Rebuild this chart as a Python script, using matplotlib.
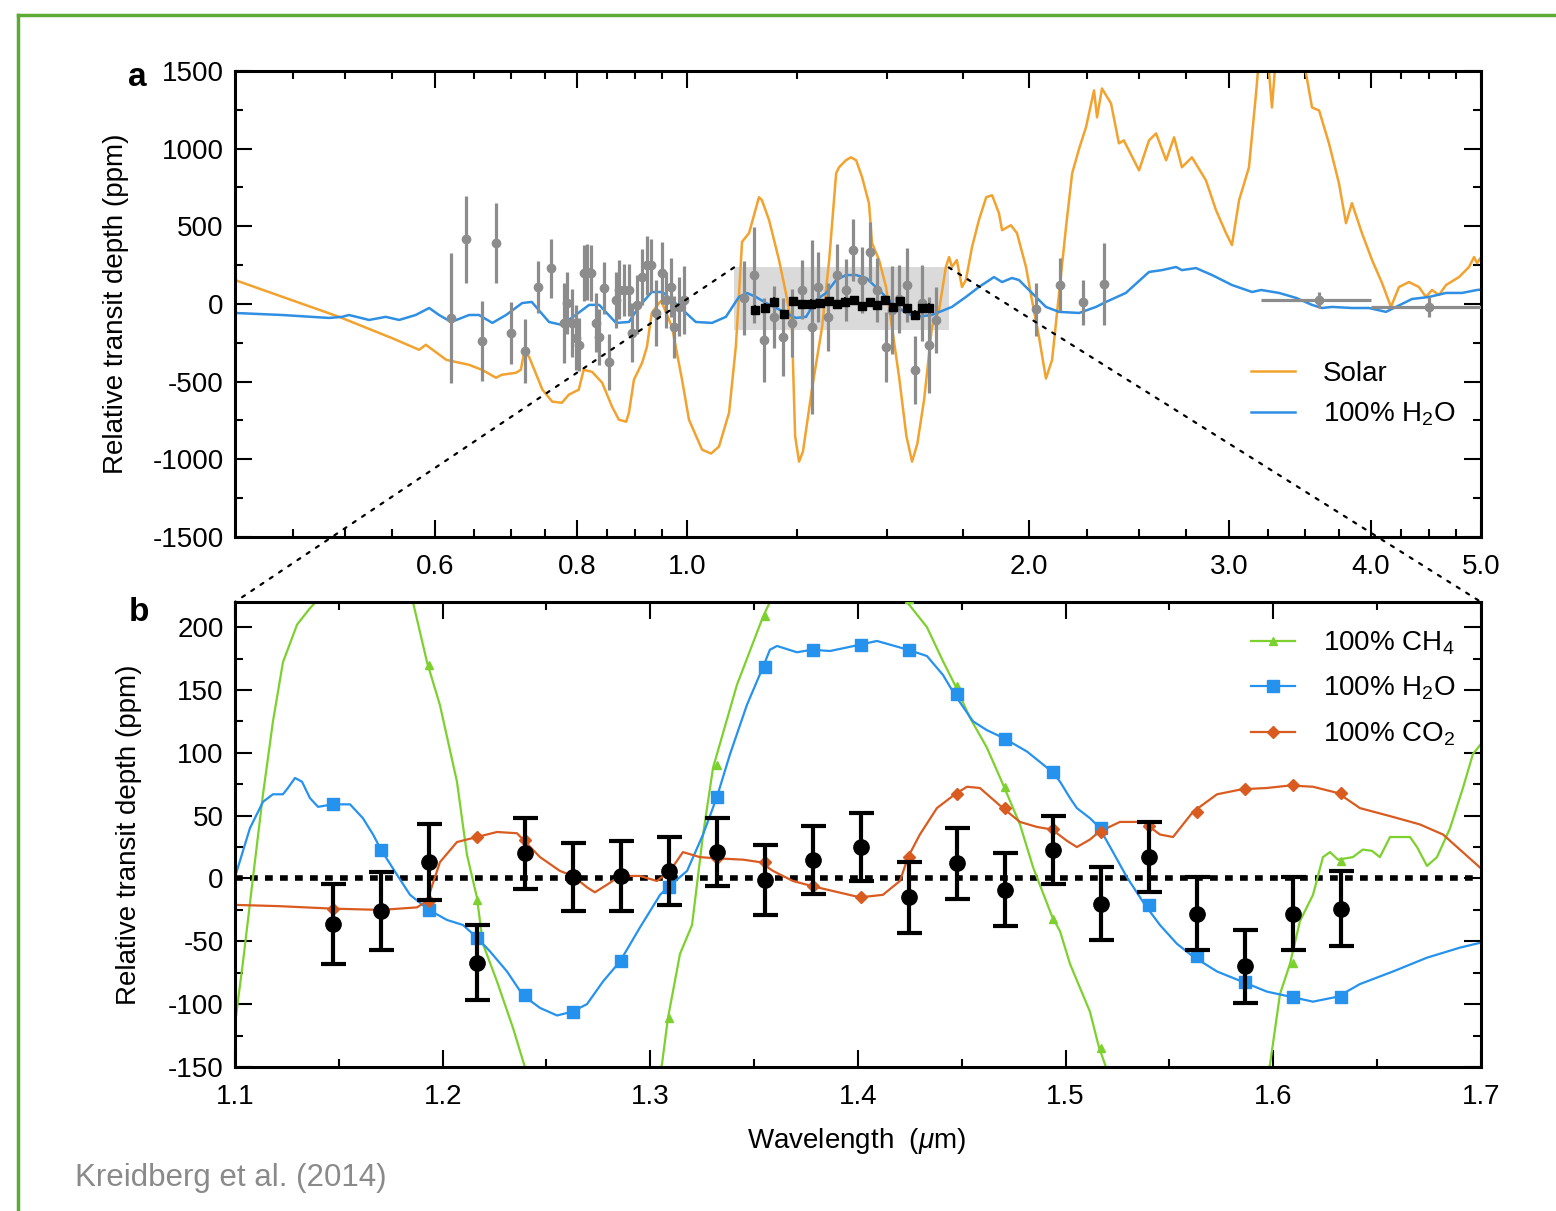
import numpy as np
import matplotlib.pyplot as plt
from matplotlib.patches import Rectangle, ConnectionPatch
from matplotlib.lines import Line2D
from matplotlib.ticker import FixedLocator, MultipleLocator, FormatStrFormatter, NullFormatter

plt.rcParams['font.family'] = ['Liberation Sans', 'DejaVu Sans']
plt.rcParams['mathtext.fontset'] = 'custom'
plt.rcParams['mathtext.rm'] = 'Liberation Sans'
plt.rcParams['mathtext.it'] = 'Liberation Sans:italic'
plt.rcParams['axes.unicode_minus'] = False

# ---- panel a : model spectra (wavelength um, depth ppm) ----
solar_wl = [0.400, 0.494, 0.550, 0.581, 0.589, 0.614, 0.643, 0.660, 0.679, 0.687, 0.707, 0.714, 0.719, 0.726,
            0.746, 0.761, 0.776, 0.787, 0.803, 0.811, 0.825, 0.842, 0.859, 0.871, 0.884, 0.889, 0.898, 0.913,
            0.922, 0.931, 0.945, 0.949, 0.970, 0.990, 1.004, 1.031, 1.050, 1.067, 1.089, 1.104, 1.112, 1.118,
            1.134, 1.157, 1.164, 1.181, 1.205, 1.222, 1.237, 1.245, 1.255, 1.265, 1.288, 1.315, 1.334, 1.353,
            1.361, 1.380, 1.394, 1.409, 1.426, 1.446, 1.455, 1.476, 1.497, 1.515, 1.537, 1.560, 1.578, 1.595,
            1.617, 1.643, 1.667, 1.690, 1.701, 1.711, 1.728, 1.746, 1.760, 1.782, 1.807, 1.834, 1.856, 1.882,
            1.894, 1.928, 1.952, 1.988, 2.012, 2.041, 2.070, 2.096, 2.126, 2.156, 2.183, 2.214, 2.245, 2.282,
            2.296, 2.319, 2.362, 2.400, 2.424, 2.500, 2.551, 2.588, 2.641, 2.684, 2.727, 2.783, 2.863, 2.922,
            2.982, 3.018, 3.062, 3.124, 3.169, 3.190, 3.240, 3.273, 3.300, 3.400, 3.507, 3.550, 3.601, 3.674,
            3.749, 3.803, 3.849, 3.928, 4.009, 4.091, 4.166, 4.234, 4.321, 4.409, 4.472, 4.527, 4.592, 4.658,
            4.782, 4.880, 4.930, 4.960, 5.000]
solar_depth = [154, -83, -220, -295, -263, -360, -392, -424, -475, -456, -443, -424, -308, -340,
               -552, -629, -636, -584, -552, -424, -437, -507, -661, -745, -758, -700, -488, -379,
               -276, -58, 6, 20, -148, -488, -745, -938, -963, -918, -700, -276, 100, 400,
               456, 687, 668, 540, 283, 71, -148, -850, -1015, -950, -552, -148, 283, 841,
               880, 925, 944, 925, 816, 649, 392, 283, 109, -148, -469, -850, -1015, -900,
               -617, -148, -39, 238, 302, 238, 283, 109, 154, 366, 540, 687, 700, 584,
               475, 507, 456, 238, 26, -212, -480, -360, 71, 495, 841, 1000, 1137, 1375,
               1201, 1387, 1291, 1034, 1053, 860, 1053, 1098, 925, 1073, 880, 944, 796, 604,
               456, 379, 668, 880, 1355, 1600, 1650, 1265, 1600, 1800, 1484, 1265, 1246, 1034,
               777, 520, 649, 456, 283, 135, -19, 109, 141, 109, 45, 90, 58, 122,
               173, 238, 302, 263, 300]

h2o_wl = [0.400, 0.440, 0.484, 0.497, 0.504, 0.525, 0.543, 0.558, 0.577, 0.593, 0.605, 0.620, 0.643, 0.656,
          0.674, 0.693, 0.716, 0.730, 0.756, 0.776, 0.798, 0.820, 0.837, 0.866, 0.889, 0.907, 0.931, 0.951,
          0.970, 0.998, 1.018, 1.052, 1.082, 1.111, 1.129, 1.150, 1.174, 1.198, 1.222, 1.247, 1.273, 1.299,
          1.326, 1.353, 1.380, 1.409, 1.438, 1.476, 1.515, 1.559, 1.591, 1.643, 1.711, 1.760, 1.807, 1.863,
          1.894, 1.932, 1.960, 2.012, 2.070, 2.126, 2.214, 2.291, 2.338, 2.434, 2.551, 2.619, 2.695, 2.727,
          2.806, 2.899, 3.018, 3.144, 3.202, 3.320, 3.437, 3.550, 3.622, 3.697, 3.849, 3.985, 4.124, 4.209,
          4.347, 4.500, 4.658, 4.811, 4.960, 5.000]
h2o_depth = [-58, -71, -90, -83, -71, -103, -83, -103, -71, -26, -71, -116, -71, -71,
             -122, -71, 6, 13, -116, -135, -71, -6, -6, -122, -116, -19, 77, 77,
             26, -58, -116, -122, -83, 45, 71, 45, 6, -26, -58, -90, -83, 26,
             71, 154, 186, 186, 167, 90, 6, -58, -83, -71, -19, 45, 109, 173,
             141, 167, 154, 71, -19, -51, -58, -19, 13, 71, 206, 218, 238, 218,
             231, 186, 122, 77, 90, 71, 39, -6, -26, -19, -26, -26, -51, -19,
             32, 45, 71, 71, 90, 92]

# ---- panel a : other observations (gray) ----
obs_wl = [0.620, 0.639, 0.660, 0.679, 0.700, 0.720, 0.739, 0.759, 0.779, 0.784, 0.792, 0.798, 0.803, 0.811,
          0.817, 0.823, 0.832, 0.837, 0.845, 0.854, 0.866, 0.871, 0.880, 0.889, 0.895, 0.904, 0.913, 0.922,
          0.930, 0.939, 0.951, 0.958, 0.968, 0.974, 0.984, 0.994,
          1.123, 1.146, 1.169, 1.193, 1.215, 1.237, 1.262, 1.288, 1.304, 1.331, 1.355, 1.380, 1.400, 1.426,
          1.449, 1.470, 1.497, 1.515, 1.537, 1.562, 1.587, 1.610, 1.633, 1.657,
          2.03, 2.13, 2.23, 2.33]
obs_depth = [-90, 417, -238, 392, -186, -305, 109, 231, -122, 6, -122, -218, -263, 199,
             206, 199, -122, -212, 103, -376, 26, 90, 90, 90, -186, -6, 173, 250,
             250, -58, 199, 26, 109, -148, -19, 26,
             39, 186, -231, -83, -212, -122, 90, -148, 109, -83, 186, 90, 347, 154,
             334, 90, -276, -39, 30, 122, -424, 6, -263, -103,
             -35, 125, 10, 130]
obs_err = [420, 280, 255, 255, 200, 205, 170, 190, 255, 200, 220, 210, 170, 180,
           180, 180, 190, 180, 165, 180, 180, 190, 170, 170, 190, 190, 180, 190,
           170, 210, 200, 180, 190, 200, 190, 220,
           240, 310, 270, 200, 250, 220, 190, 560, 225, 220, 200, 200, 200, 210,
           195, 205, 225, 285, 220, 240, 220, 245, 310, 215,
           170, 173, 146, 265]

spitzer_wl = [3.6, 4.5]
spitzer_depth = [26, -19]
spitzer_err = [50, 65]
spitzer_lo = [3.2, 4.0]
spitzer_hi = [4.0, 5.0]

# ---- WFC3 spectrum (panel b data, also black squares in a) ----
wfc3_wl = [1.1472, 1.1703, 1.1934, 1.2166, 1.2397, 1.2628, 1.2859, 1.3090, 1.3322, 1.3553, 1.3784,
           1.4015, 1.4246, 1.4478, 1.4709, 1.4940, 1.5171, 1.5402, 1.5634, 1.5865, 1.6096, 1.6327]
wfc3_depth = [-36, -26, 13, -67, 20, 1, 2, 6, 21, -1, 15, 25, -15, 12, -9, 23, -20, 17, -28, -70, -28, -24]
wfc3_err = [32, 31, 30, 30, 28, 27, 28, 27, 27, 28, 27, 27, 28, 28, 29, 27, 29, 28, 29, 29, 29, 30]

# ---- panel b : model lines ----
b_h2o_wl = [1.1000, 1.1072, 1.1135, 1.1183, 1.1231, 1.1255, 1.1289, 1.1323, 1.1361, 1.1400, 1.1472, 1.1554,
            1.1616, 1.1665, 1.1703, 1.1780, 1.1843, 1.1934, 1.2021, 1.2098, 1.2165, 1.2228, 1.2310, 1.2387,
            1.2469, 1.2551, 1.2623, 1.2695, 1.2772, 1.2854, 1.2950, 1.3047, 1.3085, 1.3177, 1.3254, 1.3321,
            1.3384, 1.3465, 1.3542, 1.3576, 1.3610, 1.3706, 1.3778, 1.3865, 1.4010, 1.4091, 1.4241, 1.4332,
            1.4409, 1.4467, 1.4554, 1.4621, 1.4698, 1.4814, 1.4934, 1.4973, 1.5021, 1.5054, 1.5117, 1.5160,
            1.5228, 1.5295, 1.5382, 1.5454, 1.5536, 1.5613, 1.5729, 1.5849, 1.5969, 1.6080, 1.6191, 1.6311,
            1.6417, 1.6576, 1.6740, 1.6899, 1.7000]
b_h2o_depth = [1, 40, 61, 67, 67, 72, 80, 77, 64, 57, 59, 59,
               48, 35, 23, 3, -13, -25, -33, -37, -47, -58, -74, -93,
               -103, -109, -106, -100, -82, -66, -39, -13, -7, 6, 35, 65,
               99, 138, 168, 182, 185, 180, 182, 181, 186, 189, 182, 177,
               162, 146, 125, 118, 112, 101, 85, 77, 64, 56, 48, 41,
               21, 1, -21, -37, -52, -62, -74, -82, -90, -94, -98, -94,
               -84, -74, -63, -55, -51]

b_co2_wl = [1.1000, 1.1212, 1.1472, 1.1703, 1.1876, 1.1925, 1.1987, 1.2069, 1.2165, 1.2262, 1.2358, 1.2387,
            1.2469, 1.2565, 1.2628, 1.2695, 1.2733, 1.2791, 1.2854, 1.2950, 1.3032, 1.3095, 1.3157, 1.3239,
            1.3321, 1.3446, 1.3528, 1.3591, 1.3687, 1.3778, 1.3880, 1.4010, 1.4120, 1.4202, 1.4241, 1.4298,
            1.4380, 1.4467, 1.4525, 1.4587, 1.4698, 1.4780, 1.4862, 1.4934, 1.5006, 1.5054, 1.5117, 1.5160,
            1.5261, 1.5372, 1.5454, 1.5517, 1.5613, 1.5729, 1.5849, 1.5969, 1.6080, 1.6191, 1.6311, 1.6417,
            1.6576, 1.6706, 1.6817, 1.7000]
b_co2_depth = [-21, -22, -24, -25, -23, -18, 13, 29, 33, 37, 36, 31,
               17, 6, 2, -7, -11, -5, 2, 2, -2, 6, 21, 17,
               16, 15, 13, 6, -2, -6, -10, -15, -13, -2, 17, 35,
               56, 67, 73, 72, 56, 45, 41, 39, 30, 25, 31, 37,
               45, 45, 35, 33, 53, 67, 71, 72, 74, 73, 68, 56,
               49, 43, 35, 8]

b_ch4_wl = [1.1000, 1.1039, 1.1087, 1.1135, 1.1183, 1.1231, 1.1299, 1.1361, 1.1400, 1.1500, 1.1600, 1.1700,
            1.1780, 1.1857, 1.1925, 1.1987, 1.2069, 1.2117, 1.2165, 1.2194, 1.2262, 1.2339, 1.2396, 1.2500,
            1.2650, 1.2800, 1.2950, 1.3056, 1.3085, 1.3143, 1.3201, 1.3254, 1.3302, 1.3335, 1.3417, 1.3542,
            1.3576, 1.3700, 1.3900, 1.4100, 1.4236, 1.4332, 1.4409, 1.4467, 1.4539, 1.4621, 1.4698, 1.4780,
            1.4843, 1.4934, 1.4973, 1.5021, 1.5117, 1.5160, 1.5194, 1.5300, 1.5500, 1.5700, 1.5900, 1.5984,
            1.6032, 1.6080, 1.6128, 1.6191, 1.6239, 1.6273, 1.6311, 1.6383, 1.6431, 1.6475, 1.6513, 1.6562,
            1.6624, 1.6658, 1.6692, 1.6740, 1.6788, 1.6851, 1.6913, 1.6961, 1.7000]
b_ch4_depth = [-116, -66, 1, 67, 125, 172, 202, 215, 222, 245, 255, 255,
               245, 220, 172, 138, 77, 19, -15, -52, -82, -119, -150, -210,
               -280, -280, -210, -148, -111, -60, -37, 35, 88, 107, 154, 208,
               220, 260, 280, 260, 220, 200, 173, 154, 128, 104, 75, 43,
               9, -30, -42, -68, -106, -134, -150, -200, -260, -250, -190, -148,
               -92, -68, -34, -13, 17, 21, 15, 17, 23, 22, 17, 33,
               33, 33, 25, 10, 17, 40, 72, 99, 107]

# binned model values at the WFC3 wavelengths (markers)
bin_h2o = [59, 23, -25, -47, -93, -106, -66, -7, 65, 168, 182, 186, 182, 147, 111, 85, 40, -21, -62, -82, -94, -94]
bin_co2 = [-24, -25, -18, 33, 31, 2, 2, 6, 16, 13, -6, -15, 17, 67, 56, 39, 37, 42, 53, 71, 74, 68]
bin_ch4 = [250, 255, 170, -17, -160, -280, -270, -111, 90, 209, 270, 275, 222, 153, 73, -32, -135, -240, -255, -210, -67, 14]

# colours
c_solar = '#F2A22E'
c_h2o = '#2F8FE3'
c_h2o_b = '#2592EE'
c_ch4 = '#7DD12E'
c_co2 = '#D95B1F'
c_gray = '#8C8C8C'

FS = 20

fig = plt.figure(figsize=(15.56, 12.11), dpi=100)
ax_a = fig.add_axes([0.1510, 0.5566, 0.8008, 0.3848])
ax_b = fig.add_axes([0.1510, 0.1189, 0.8008, 0.3840])

# ---------------- panel a ----------------
ax_a.set_xscale('log')
ax_a.add_patch(Rectangle((1.1, -165), 0.6, 400, facecolor='#dadada', edgecolor='none', zorder=0.5))
ax_a.plot(solar_wl, solar_depth, color=c_solar, lw=1.8, zorder=2, label='Solar')
ax_a.plot(h2o_wl, h2o_depth, color=c_h2o, lw=1.8, zorder=2, label='100% H$_2$O')
ax_a.errorbar(obs_wl, obs_depth, yerr=obs_err, fmt='o', color=c_gray, ms=6, elinewidth=2.3, capsize=0, zorder=3)
xerr = [np.array(spitzer_wl) - np.array(spitzer_lo), np.array(spitzer_hi) - np.array(spitzer_wl)]
ax_a.errorbar(spitzer_wl, spitzer_depth, yerr=spitzer_err, xerr=xerr, fmt='o', color=c_gray,
              ms=6, elinewidth=2.3, capsize=0, zorder=3)
ax_a.errorbar(wfc3_wl, wfc3_depth, yerr=wfc3_err, fmt='s', color='black', ms=6, elinewidth=1.2,
              capsize=0, zorder=4)

ax_a.set_xlim(0.4, 5.0)
ax_a.set_ylim(-1500, 1500)
ax_a.xaxis.set_major_locator(FixedLocator([0.6, 0.8, 1.0, 2.0, 3.0, 4.0, 5.0]))
ax_a.xaxis.set_major_formatter(FormatStrFormatter('%.1f'))
ax_a.xaxis.set_minor_locator(FixedLocator([0.45, 0.5, 0.55, 0.65, 0.7, 0.75, 0.85, 0.9, 0.95,
                                           1.25, 1.5, 1.75, 2.25, 2.5, 2.75, 3.25, 3.5, 3.75,
                                           4.25, 4.5, 4.75]))
ax_a.xaxis.set_minor_formatter(NullFormatter())
ax_a.yaxis.set_major_locator(MultipleLocator(500))
ax_a.yaxis.set_minor_locator(MultipleLocator(250))
ax_a.set_ylabel('Relative transit depth (ppm)', fontsize=FS)
ax_a.yaxis.set_label_coords(-0.085, 0.5)
ax_a.legend(loc='lower right', bbox_to_anchor=(1.0, 0.18), frameon=False, fontsize=FS,
            handlelength=1.6, handletextpad=1.0, labelspacing=0.5)

# ---------------- panel b ----------------
ax_b.axhline(0, color='black', lw=4, linestyle=(0, (1.4, 1.3)), zorder=1.5)
ax_b.plot(b_ch4_wl, b_ch4_depth, color=c_ch4, lw=1.6, zorder=2)
ax_b.plot(b_h2o_wl, b_h2o_depth, color=c_h2o_b, lw=1.6, zorder=2)
ax_b.plot(b_co2_wl, b_co2_depth, color=c_co2, lw=1.6, zorder=2)
ax_b.plot(wfc3_wl, bin_ch4, '^', color=c_ch4, ms=6, zorder=3)
ax_b.plot(wfc3_wl, bin_h2o, 's', color=c_h2o_b, ms=8.5, zorder=3)
ax_b.plot(wfc3_wl, bin_co2, 'D', color=c_co2, ms=6.5, zorder=3)
ax_b.errorbar(wfc3_wl, wfc3_depth, yerr=wfc3_err, fmt='o', color='black', ms=11, elinewidth=3,
              capsize=9, capthick=3, zorder=5)

ax_b.set_xlim(1.1, 1.7)
ax_b.set_ylim(-150, 220)
ax_b.xaxis.set_major_locator(MultipleLocator(0.1))
ax_b.xaxis.set_minor_locator(MultipleLocator(0.05))
ax_b.xaxis.set_major_formatter(FormatStrFormatter('%.1f'))
ax_b.yaxis.set_major_locator(MultipleLocator(50))
ax_b.yaxis.set_minor_locator(MultipleLocator(25))
ax_b.set_ylabel('Relative transit depth (ppm)', fontsize=FS)
ax_b.yaxis.set_label_coords(-0.075, 0.5)
ax_b.set_xlabel(r'Wavelength  ($\mu$m)', fontsize=FS)
ax_b.xaxis.set_label_coords(0.499, -0.127)

handles = [Line2D([], [], color=c_ch4, lw=1.6, marker='^', ms=6),
           Line2D([], [], color=c_h2o_b, lw=1.6, marker='s', ms=8.5),
           Line2D([], [], color=c_co2, lw=1.6, marker='D', ms=6.5)]
ax_b.legend(handles, ['100% CH$_4$', '100% H$_2$O', '100% CO$_2$'], loc='upper right',
            bbox_to_anchor=(1.0, 0.995), frameon=False, fontsize=FS, numpoints=1,
            handlelength=1.6, handletextpad=1.0, labelspacing=0.65)

for ax in (ax_a, ax_b):
    for sp in ax.spines.values():
        sp.set_linewidth(2.2)
    ax.tick_params(which='both', direction='in', top=True, right=True, width=1.5, labelsize=FS)
    ax.tick_params(which='major', length=12)
    ax.tick_params(which='minor', length=6)
    ax.tick_params(axis='x', pad=12)
    ax.tick_params(axis='y', pad=8)

# dotted zoom lines from the grey box to panel b
for xa, xb in ((1.1, 0), (1.7, 1)):
    con = ConnectionPatch(xyA=(xa, 235), coordsA=ax_a.transData, xyB=(xb, 1), coordsB=ax_b.transAxes,
                          color='black', lw=1.6, linestyle=(0, (1.5, 3.5)), zorder=6)
    fig.add_artist(con)

fig.text(0.088, 0.9364, 'a', fontsize=24, fontweight='bold', ha='center', va='center')
fig.text(0.089, 0.4946, 'b', fontsize=24, fontweight='bold', ha='center', va='center')
fig.text(0.048, 0.0273, 'Kreidberg et al. (2014)', fontsize=22.5, color='#8a8a8a', ha='left', va='center')

# green frame
fig.add_artist(Line2D([0.0116, 0.0116], [0.0, 0.9876], color='#5DAA34', lw=2.5))
fig.add_artist(Line2D([0.0116, 1.0], [0.9876, 0.9876], color='#5DAA34', lw=2.5))

fig.savefig('out.png', dpi=100)
